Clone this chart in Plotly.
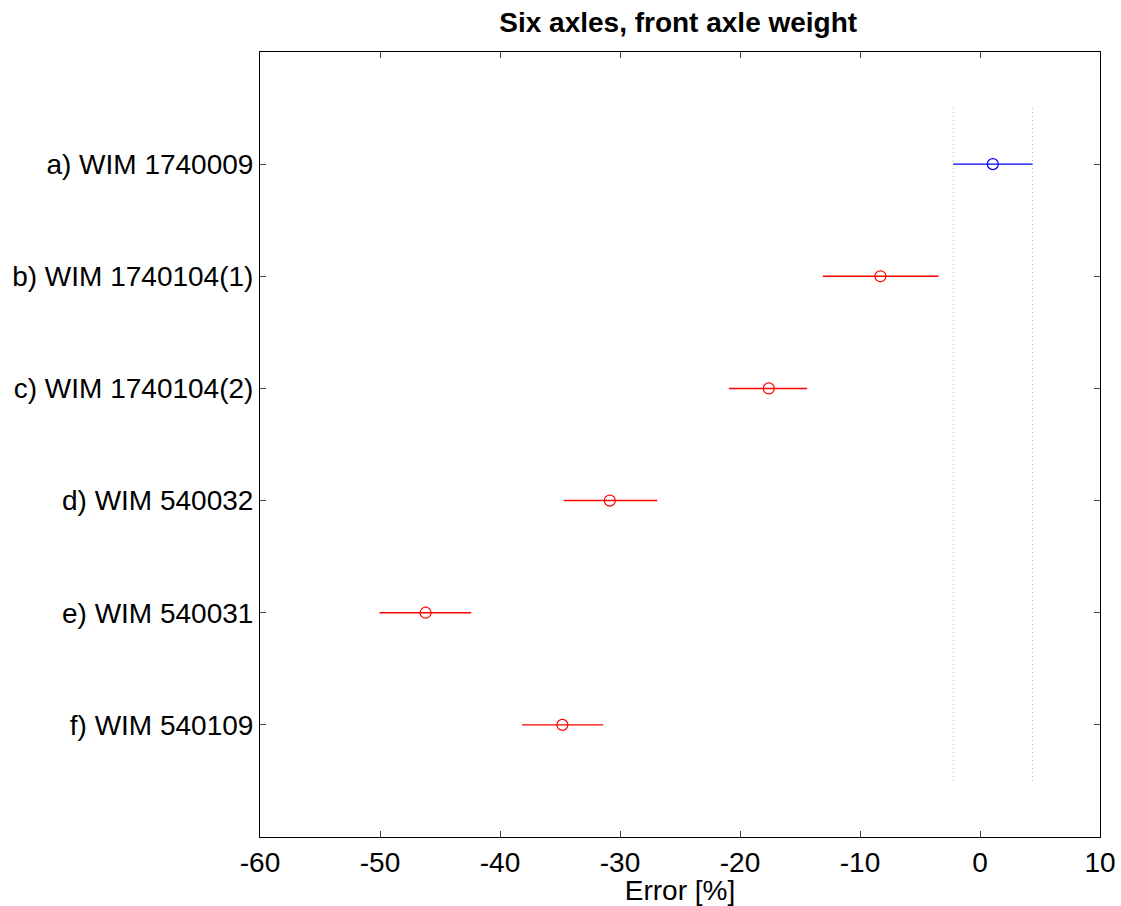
import plotly.graph_objects as go

categories = ["a) WIM 1740009", "b) WIM 1740104(1)", "c) WIM 1740104(2)",
              "d) WIM 540032", "e) WIM 540031", "f) WIM 540109"]
mean_err = [1.07, -8.3, -17.6, -30.85, -46.2, -34.8]
lower = [-2.23, -13.1, -20.93, -34.7, -50.04, -38.15]
upper = [4.375, -3.46, -14.4, -26.9, -42.4, -31.4]
colors = ["#0000FF", "#FF0000", "#FF0000", "#FF0000", "#FF0000", "#FF0000"]
x_ticks = [-60, -50, -40, -30, -20, -10, 0, 10]
x_tick_labels = ["-60", "-50", "-40", "-30", "-20", "-10", "0", "10"]

fig = go.Figure()

# reference interval (dotted lines) from the first row
ref_lo, ref_hi = lower[0], upper[0]
for xv in (ref_lo, ref_hi):
    fig.add_trace(go.Scatter(x=[xv, xv], y=[0.5, len(categories) + 0.5], mode="lines",
                             line=dict(color="#b4b4b4", width=1, dash="1px,3px"),
                             showlegend=False, hoverinfo="skip"))

for i, cat in enumerate(categories):
    yv = i + 1
    fig.add_trace(go.Scatter(
        x=[mean_err[i]], y=[yv], mode="markers",
        marker=dict(symbol="circle-open", size=11, color=colors[i], line=dict(width=1.2)),
        error_x=dict(type="data", symmetric=False,
                     array=[upper[i] - mean_err[i]],
                     arrayminus=[mean_err[i] - lower[i]],
                     color=colors[i], thickness=1.4, width=0),
        showlegend=False))

font = "Liberation Sans, Arial, sans-serif"
fig.update_layout(
    width=1121, height=906,
    margin=dict(l=260, r=21, t=52, b=69),
    paper_bgcolor="white", plot_bgcolor="white",
    font=dict(family=font, size=28, color="black"),
    title=dict(text="<b>Six axles, front axle weight</b>", x=0.605, xanchor="center",
               y=0.975, yanchor="middle", font=dict(size=28)),
    xaxis=dict(range=[-60, 10], tickvals=x_ticks, ticktext=x_tick_labels,
               ticks="inside", ticklen=6, automargin=False,
               showline=True, linecolor="black", linewidth=1, mirror="ticks",
               showgrid=False, zeroline=False,
               title=dict(text="Error [%]", standoff=2, font=dict(size=28))),
    yaxis=dict(range=[len(categories) + 1, 0], tickvals=list(range(1, len(categories) + 1)),
               ticktext=categories, ticks="inside", ticklen=6, automargin=False,
               showline=True, linecolor="black", linewidth=1, mirror="ticks",
               showgrid=False, zeroline=False),
)

fig.write_html("out.html")
